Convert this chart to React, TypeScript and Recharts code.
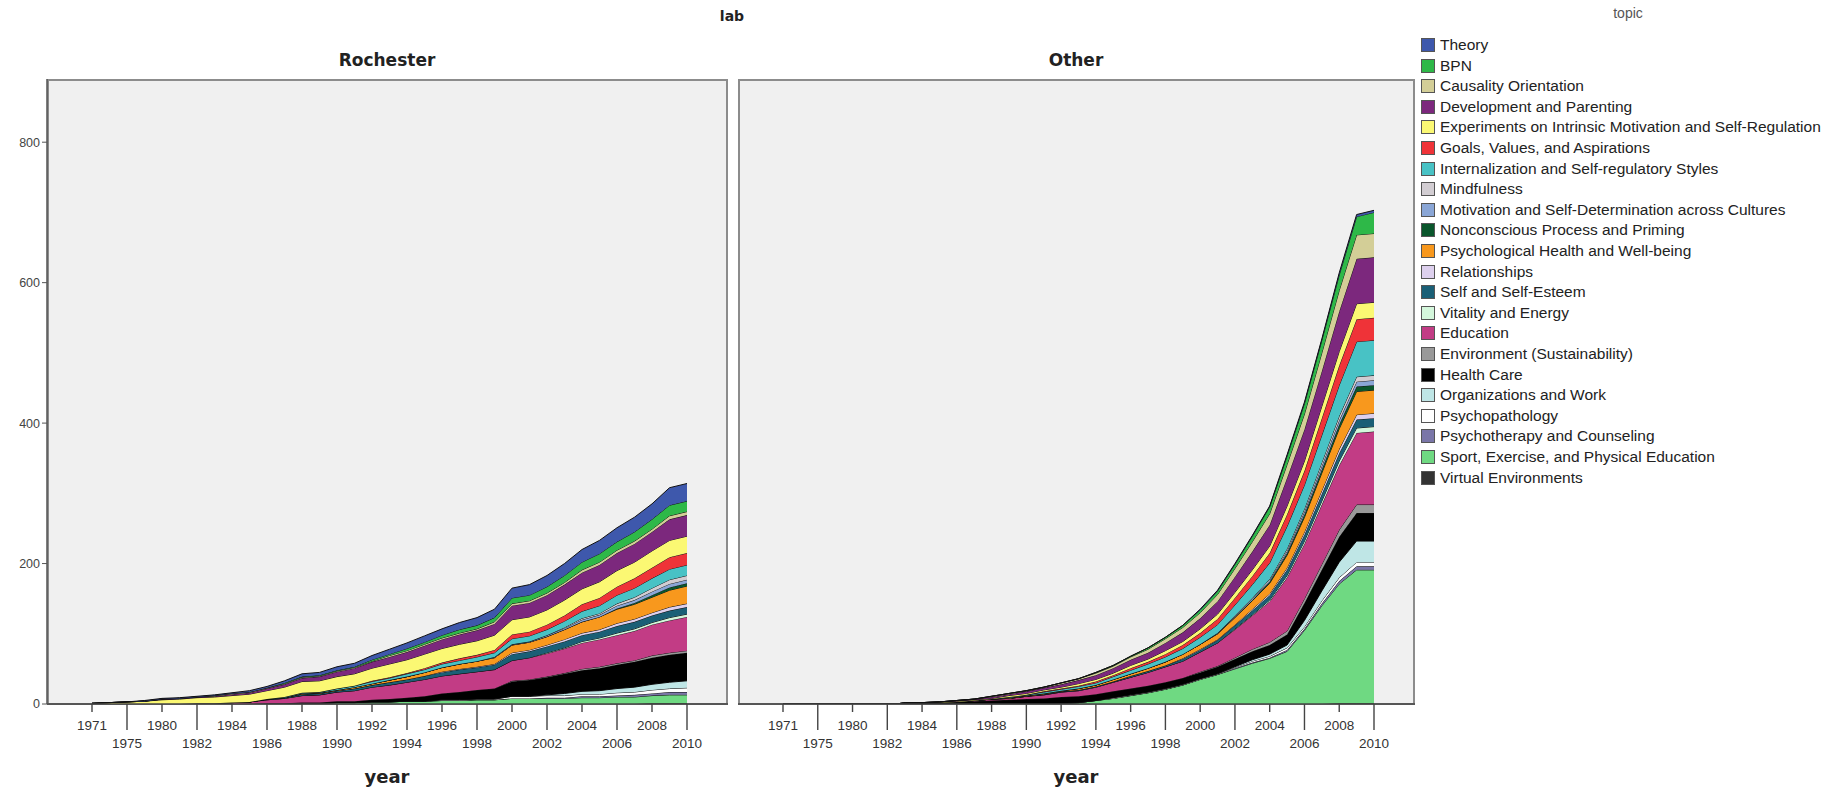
import React from 'react';
import { AreaChart, Area, XAxis, YAxis } from 'recharts';

const years = ['1971','1973','1975','1977','1980','1981','1982','1983','1984','1985','1986','1987','1988','1989','1990','1991','1992','1993','1994','1995','1996','1997','1998','1999','2000','2001','2002','2003','2004','2005','2006','2007','2008','2009','2010'];

const topics = ['Theory','BPN','Causality Orientation','Development and Parenting','Experiments on Intrinsic Motivation and Self-Regulation','Goals, Values, and Aspirations','Internalization and Self-regulatory Styles','Mindfulness','Motivation and Self-Determination across Cultures','Nonconscious Process and Priming','Psychological Health and Well-being','Relationships','Self and Self-Esteem','Vitality and Energy','Education','Environment (Sustainability)','Health Care','Organizations and Work','Psychopathology','Psychotherapy and Counseling','Sport, Exercise, and Physical Education','Virtual Environments'];

const topicColors = ['#3E58AC','#2EB848','#D3CE97','#7C287D','#FBF873','#EF3338','#48C2C5','#D2CDD2','#8AA6D6','#0A562C','#F8981D','#DDD0EE','#1A5F76','#D4F7DC','#C23C85','#999999','#000000','#BFE6E6','#FFFFFF','#7A76A8','#6FD982','#333333'];

const yTicks = [0, 200, 400, 600, 800];

// Rochester
const rocTheory = [0,0,0,1,1, 1,1,1,1,2, 2,3,4,4,5, 5,6,7,8,9, 9,10,11,12,14, 15,16,17,18,19, 20,21,22,25,25];
const rocBPN = [0,0,0,0,0, 0,0,0,0,0, 0,1,1,1,1, 1,2,2,3,3, 4,5,5,6,8, 8,9,10,11,12, 12,13,14,15,15];
const rocCausality = [0,0,0,0,0, 0,0,1,1,1, 1,1,1,1,1, 1,1,2,2,2, 2,2,2,3,3, 3,3,3,4,4, 4,4,4,5,5];
const rocDevelopment = [0,0,0,0,1, 1,1,1,2,2, 3,4,5,6,7, 8,9,10,11,12, 13,14,15,16,20, 20,21,22,23,24, 25,26,27,30,30];
const rocExperiments = [1,2,3,4,6, 7,8,9,10,11, 12,14,16,16,17, 17,18,19,19,20, 20,20,20,21,21, 21,21,22,22,23, 23,23,24,24,24];
const rocGoals = [0,0,0,0,0, 0,0,0,0,0, 0,0,0,0,0, 0,1,1,1,2, 2,3,3,4,6, 6,7,8,10,11, 12,14,15,17,17];
const rocInternalization = [0,0,0,0,0, 0,0,0,0,0, 0,1,1,1,2, 2,3,3,4,4, 5,5,6,6,8, 8,8,9,10,11, 12,13,14,15,15];
const rocMindfulness = [0,0,0,0,0, 0,0,0,0,0, 0,0,0,0,0, 0,0,0,0,0, 0,0,0,0,0, 0,0,1,2,2, 3,4,5,6,6];
const rocMotivation = [0,0,0,0,0, 0,0,0,0,0, 0,0,0,0,0, 0,0,0,0,0, 0,0,0,1,1, 1,2,2,3,3, 4,4,5,5,5];
const rocNonconscious = [0,0,0,0,0, 0,0,0,0,0, 0,0,0,0,0, 0,0,0,0,0, 0,0,0,0,0, 0,0,0,0,0, 1,2,3,4,4];
const rocPsychHealth = [0,0,0,0,0, 0,0,0,0,0, 0,0,1,1,1, 2,2,3,4,5, 6,7,8,9,11, 11,12,14,16,18, 20,21,22,24,25];
const rocRelationships = [0,0,0,0,0, 0,0,0,0,0, 0,0,0,0,0, 0,0,0,0,0, 1,1,1,1,2, 2,2,3,3,3, 4,4,4,5,5];
const rocSelf = [0,0,0,0,0, 0,0,0,0,0, 1,1,2,2,2, 3,3,4,4,5, 5,6,6,7,9, 9,9,9,9,9, 10,10,10,10,10];
const rocVitality = [0,0,0,0,0, 0,0,0,0,0, 0,0,0,0,0, 0,0,0,0,0, 0,0,0,0,0, 0,1,1,2,2, 3,3,3,4,4];
const rocEducation = [0,0,0,0,0, 0,1,1,2,3, 5,7,10,11,13, 15,18,20,22,24, 25,26,26,27,29, 31,33,35,37,39, 40,42,44,46,48];
const rocEnvironment = [0,0,0,0,0, 0,0,0,0,0, 0,0,0,0,0, 0,0,0,0,0, 0,0,0,0,1, 1,1,1,2,2, 2,2,3,3,3];
const rocHealthCare = [0,0,0,0,0, 0,0,0,0,0, 1,1,1,1,2, 2,3,4,5,7, 9,11,13,15,21, 23,25,28,30,32, 34,36,38,39,40];
const rocOrganizations = [0,0,0,0,0, 0,0,0,0,0, 0,0,0,0,0, 0,0,0,0,0, 0,0,0,0,0, 0,1,3,4,5, 6,7,8,9,10];
const rocPsychopathology = [0,0,0,0,0, 0,0,0,0,0, 0,0,0,0,0, 0,0,0,0,0, 1,1,1,1,3, 3,3,3,3,3, 4,4,5,5,6];
const rocPsychotherapy = [0,0,0,0,0, 0,0,0,0,0, 0,0,0,0,0, 0,0,0,0,0, 0,0,0,0,0, 0,1,1,2,2, 2,3,3,4,4];
const rocSport = [0,0,0,0,0, 0,0,0,0,0, 0,0,1,1,2, 2,3,3,4,4, 5,5,6,6,8, 8,8,8,9,9, 10,10,11,12,12];
const rocVirtual = [0,0,0,0,0, 0,0,0,0,0, 0,0,0,0,0, 0,0,0,0,0, 0,0,0,0,0, 0,0,0,0,0, 0,0,1,1,1];

// Other
const othTheory = [0,0,0,0,0, 0,0,0,0,0, 0,0,0,0,0, 0,0,0,0,0, 0,0,0,0,1, 1,1,1,1,2, 2,2,3,3,3];
const othBPN = [0,0,0,0,0, 0,0,0,0,0, 0,0,0,0,0, 0,0,0,1,1, 1,2,2,3,4, 5,6,8,10,12, 15,18,22,26,30];
const othCausality = [0,0,0,0,0, 0,0,0,0,0, 0,0,1,1,1, 1,2,2,3,3, 4,5,6,7,8, 10,12,14,16,19, 22,26,30,34,34];
const othDevelopment = [0,0,0,0,0, 0,0,0,0,0, 1,1,2,2,3, 3,4,5,6,7, 8,9,11,13,15, 18,22,26,30,40, 45,50,57,64,64];
const othExperiments = [0,0,0,0,0, 0,0,0,0,1, 1,1,1,2,2, 2,2,3,3,3, 4,4,5,5,6, 7,8,9,10,12, 14,17,20,22,22];
const othGoals = [0,0,0,0,0, 0,0,0,0,0, 0,0,0,0,0, 1,1,1,2,2, 3,3,4,5,6, 8,10,12,14,17, 20,24,28,32,32];
const othInternalization = [0,0,0,0,0, 0,0,0,0,0, 0,0,0,1,1, 2,2,3,3,4, 5,6,7,8,10, 12,15,19,23,32, 34,39,44,50,50];
const othMindfulness = [0,0,0,0,0, 0,0,0,0,0, 0,0,0,0,0, 0,0,0,0,0, 0,0,0,0,0, 0,1,1,2,3, 4,5,6,7,7];
const othMotivation = [0,0,0,0,0, 0,0,0,0,0, 0,0,0,0,0, 0,0,0,0,0, 0,0,0,0,0, 1,1,2,2,3, 4,5,6,7,7];
const othNonconscious = [0,0,0,0,0, 0,0,0,0,0, 0,0,0,0,0, 0,0,0,0,0, 0,0,0,0,0, 0,1,1,2,3, 4,5,6,7,7];
const othPsychHealth = [0,0,0,0,0, 0,0,0,0,0, 0,0,0,1,1, 1,1,2,2,3, 3,4,5,6,7, 8,10,12,15,18, 21,25,29,33,33];
const othRelationships = [0,0,0,0,0, 0,0,0,0,0, 0,0,0,0,0, 0,0,0,0,0, 0,0,0,1,1, 1,1,2,2,3, 4,5,6,7,7];
const othSelf = [0,0,0,0,0, 0,0,0,0,0, 0,0,0,0,0, 1,1,1,1,1, 2,2,2,3,3, 4,5,6,7,8, 9,10,11,12,12];
const othVitality = [0,0,0,0,0, 0,0,0,0,0, 0,0,0,0,0, 0,0,0,0,0, 0,0,0,0,0, 0,1,1,2,3, 4,5,6,7,7];
const othEducation = [0,0,0,0,0, 0,0,0,0,0, 0,1,2,2,4, 5,7,8,10,13, 16,19,22,24,28, 33,40,48,58,76, 78,85,92,102,104];
const othEnvironment = [0,0,0,0,0, 0,0,0,0,0, 0,0,0,0,0, 0,0,0,0,0, 0,0,0,0,1, 1,2,3,4,5, 6,8,10,12,12];
const othHealthCare = [0,0,0,0,0, 0,0,1,2,2, 3,4,5,6,7, 8,9,9,9,9, 9,9,9,9,9, 10,11,12,13,15, 25,30,36,40,40];
const othOrganizations = [0,0,0,0,0, 0,0,0,0,0, 0,0,0,0,0, 0,0,0,0,0, 0,0,0,0,0, 0,1,2,3,4, 9,14,22,30,30];
const othPsychopathology = [0,0,0,0,0, 0,0,0,0,0, 0,0,0,0,0, 0,0,0,0,1, 1,1,1,1,1, 1,1,2,2,3, 3,4,5,6,6];
const othPsychotherapy = [0,0,0,0,0, 0,0,0,0,0, 0,0,0,0,0, 0,0,0,0,0, 0,0,0,0,0, 0,1,1,1,2, 2,3,4,5,5];
const othSport = [0,0,0,0,0, 0,0,0,0,0, 0,0,0,0,0, 0,1,2,5,8, 12,16,21,27,35, 42,50,58,65,75, 105,140,170,190,190];
const othVirtual = [0,0,0,0,0, 0,0,0,0,0, 0,0,0,0,0, 0,0,0,0,0, 0,0,0,0,0, 0,0,0,0,0, 0,0,1,1,1];

const rocSeries = [rocTheory, rocBPN, rocCausality, rocDevelopment, rocExperiments, rocGoals, rocInternalization, rocMindfulness, rocMotivation, rocNonconscious, rocPsychHealth, rocRelationships, rocSelf, rocVitality, rocEducation, rocEnvironment, rocHealthCare, rocOrganizations, rocPsychopathology, rocPsychotherapy, rocSport, rocVirtual];
const othSeries = [othTheory, othBPN, othCausality, othDevelopment, othExperiments, othGoals, othInternalization, othMindfulness, othMotivation, othNonconscious, othPsychHealth, othRelationships, othSelf, othVitality, othEducation, othEnvironment, othHealthCare, othOrganizations, othPsychopathology, othPsychotherapy, othSport, othVirtual];

const buildRows = (series: number[][]) =>
  years.map((y, i) => {
    const row: Record<string, any> = { year: y };
    series.forEach((s, k) => { row['s' + k] = s[i]; });
    return row;
  });

const rocRows = buildRows(rocSeries);
const othRows = buildRows(othSeries);

const FONT = '"Liberation Sans", Arial, sans-serif';
const TITLE_FONT = '"DejaVu Sans", "Liberation Sans", sans-serif';

const XTick = (props: any) => {
  const { x, y, payload } = props;
  const idx = years.indexOf(String(payload.value));
  if (idx < 0 || idx % 2 !== 0) return <g />;
  const row2 = (idx / 2) % 2 === 1;
  return (
    <g>
      <line x1={x} x2={x} y1={y} y2={y + (row2 ? 26 : 8)} stroke="#444" strokeWidth={1.4} />
      <text x={x} y={y + (row2 ? 39 : 21)} textAnchor="middle" dominantBaseline="central" fontSize={13.5} fill="#333" fontFamily={FONT}>
        {payload.value}
      </text>
    </g>
  );
};

const order = topics.map((_, k) => topics.length - 1 - k);

const Panel = ({ rows, width, showY }: { rows: any[]; width: number; showY: boolean }) => (
  <AreaChart width={width} height={795} data={rows} margin={{ top: 79, right: showY ? 7 : 0, bottom: 0, left: 0 }}>
    <XAxis
      dataKey="year"
      interval={0}
      tick={(p: any) => <XTick {...p} />}
      tickLine={false}
      tickSize={0}
      tickMargin={0}
      height={91}
      axisLine={{ stroke: '#444', strokeWidth: 1.5 }}
      padding={{ left: 45, right: 41 }}
    />
    <YAxis
      hide={!showY}
      domain={[0, 890]}
      ticks={yTicks}
      allowDataOverflow
      width={showY ? 47 : 0}
      tickSize={5}
      tick={{ fontSize: 12.5, fill: '#444', fontFamily: FONT }}
      axisLine={{ stroke: '#555', strokeWidth: 1.5 }}
      tickLine={{ stroke: '#555' }}
    />
    {order.map((k) => (
      <Area
        key={k}
        type="linear"
        dataKey={'s' + k}
        stackId="a"
        stroke="#111"
        strokeWidth={1}
        fill={topicColors[k]}
        fillOpacity={1}
        isAnimationActive={false}
        dot={false}
        activeDot={false}
      />
    ))}
  </AreaChart>
);

export default function App() {
  const abs = (s: React.CSSProperties): React.CSSProperties => ({ position: 'absolute', ...s });
  return (
    <div style={abs({ left: 0, top: 0, width: 1843, height: 795, background: '#fff', fontFamily: FONT, overflow: 'hidden' })}>
      <div style={abs({ left: 47, top: 79, width: 681, height: 626, background: '#f0f0f0', border: '2px solid #8c8c8c', boxSizing: 'border-box' })} />
      <div style={abs({ left: 738, top: 79, width: 677, height: 626, background: '#f0f0f0', border: '2px solid #8c8c8c', boxSizing: 'border-box' })} />

      <div style={abs({ left: 0, top: 0 })}>
        <Panel rows={rocRows} width={735} showY={true} />
      </div>
      <div style={abs({ left: 738, top: 0 })}>
        <Panel rows={othRows} width={677} showY={false} />
      </div>

      <div style={abs({ left: 632, top: 8, width: 200, textAlign: 'center', fontSize: 14, fontWeight: 'bold', color: '#222', fontFamily: TITLE_FONT })}>lab</div>
      <div style={abs({ left: 287, top: 50, width: 200, textAlign: 'center', fontSize: 17, fontWeight: 'bold', color: '#222', fontFamily: TITLE_FONT })}>Rochester</div>
      <div style={abs({ left: 976, top: 50, width: 200, textAlign: 'center', fontSize: 17, fontWeight: 'bold', color: '#222', fontFamily: TITLE_FONT })}>Other</div>
      <div style={abs({ left: 287, top: 766, width: 200, textAlign: 'center', fontSize: 18, fontWeight: 'bold', color: '#222', fontFamily: TITLE_FONT })}>year</div>
      <div style={abs({ left: 976, top: 766, width: 200, textAlign: 'center', fontSize: 18, fontWeight: 'bold', color: '#222', fontFamily: TITLE_FONT })}>year</div>

      <div style={abs({ left: 1578, top: 5, width: 100, textAlign: 'center', fontSize: 14, color: '#555' })}>topic</div>
      {topics.map((t, i) => (
        <div key={t} style={abs({ left: 1421, top: 45 + i * 20.6 - 9, height: 18, display: 'flex', alignItems: 'center', whiteSpace: 'nowrap' })}>
          <div style={{ width: 14, height: 14, background: topicColors[i], border: '1px solid #555', boxSizing: 'border-box', flex: 'none' }} />
          <span style={{ marginLeft: 5, fontSize: 15.5, color: '#222' }}>{t}</span>
        </div>
      ))}
    </div>
  );
}
